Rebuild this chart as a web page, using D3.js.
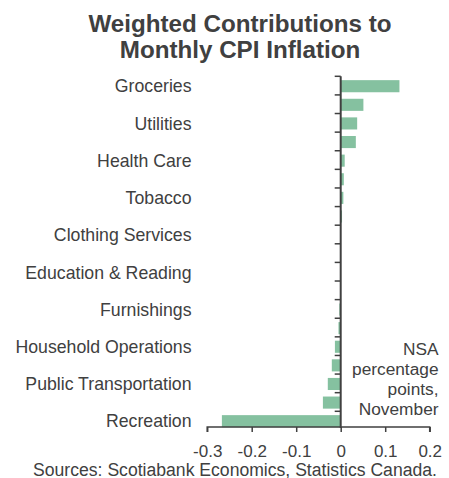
<!DOCTYPE html>
<html><head><meta charset="utf-8">
<script src="https://cdn.jsdelivr.net/npm/d3@7/dist/d3.min.js"></script>
<style>body{margin:0;background:#fff}svg{display:block}text{font-family:"Liberation Sans",Arial,sans-serif;fill:#404040}</style>
</head><body><svg id="c" width="449" height="478"></svg>
<script>
const categories = ["Groceries","c2","Utilities","c4","Health Care","c6","Tobacco","c8","Clothing Services","c10","Education & Reading","c12","Furnishings","c14","Household Operations","c16","Public Transportation","c18","Recreation"];
const labelShown = [true,false,true,false,true,false,true,false,true,false,true,false,true,false,true,false,true,false,true];
const values = [0.132,0.051,0.037,0.034,0.009,0.007,0.006,0.003,0,0,0,0,-0.003,-0.005,-0.013,-0.02,-0.029,-0.04,-0.267];
const xTicks = [-0.3,-0.2,-0.1,0,0.1,0.2];
const titleLines = ["Weighted Contributions to","Monthly CPI Inflation"];
const noteLines = ["NSA","percentage","points,","November"];
const source = "Sources: Scotiabank Economics, Statistics Canada.";

const svg = d3.select("#c");
const x = d3.scaleLinear().domain([-0.3,0.2]).range([207.2,429.7]);
const y = d3.scaleBand().domain(categories).range([76.3,429.9]).paddingInner(0.35).paddingOuter(0.175);
const step = y.step();
const axisY = 427;
const ink = "#404040";

svg.append("g").selectAll("text").data(titleLines).join("text")
  .attr("x",240).attr("y",(d,i)=>31.5+i*26.5).attr("text-anchor","middle")
  .style("font-size","24.2px").style("font-weight","bold").text(d=>d);

// bars
svg.append("g").selectAll("rect").data(values).join("rect")
  .attr("x",d=>x(Math.min(0,d))).attr("width",d=>Math.abs(x(d)-x(0)))
  .attr("y",(d,i)=>y(categories[i])+0.6).attr("height",y.bandwidth())
  .attr("fill","#85C1A0");

// y axis line and ticks at band boundaries
const x0 = x(0);
svg.append("line").attr("x1",x0).attr("x2",x0).attr("y1",76.3).attr("y2",axisY+1)
  .attr("stroke",ink).attr("stroke-width",2);
const bounds = d3.range(categories.length).map(i=>y.range()[0]+i*step);
svg.append("g").selectAll("line").data(bounds).join("line")
  .attr("x1",x0-6).attr("x2",x0).attr("y1",d=>d).attr("y2",d=>d)
  .attr("stroke",ink).attr("stroke-width",1.5);

// category labels
svg.append("g").selectAll("text").data(categories.filter((c,i)=>labelShown[i])).join("text")
  .attr("x",191.5).attr("y",d=>y(d)+y.bandwidth()/2+6.8).attr("text-anchor","end")
  .style("font-size","17.7px").text(d=>d);

// x axis
const xAxis = d3.axisBottom(x).tickValues(xTicks).tickSize(5).tickFormat(d3.format("")); 
const gx = svg.append("g").attr("transform",`translate(0,${axisY})`).call(xAxis);
gx.select(".domain").attr("stroke",ink).attr("stroke-width",1.5).attr("d",`M${x(-0.3)},5V0H${x(0.2)}V5`);
gx.selectAll(".tick line").attr("stroke",ink).attr("stroke-width",1.5);
gx.selectAll(".tick text").attr("y",17.5).style("font-size","17px").style("font-family","'Liberation Sans',Arial,sans-serif").attr("fill",ink)
  .text(d=>d===0?"0":String(d));

// note
svg.append("g").selectAll("text").data(noteLines).join("text")
  .attr("x",438.5).attr("y",(d,i)=>354.5+i*20).attr("text-anchor","end")
  .style("font-size","17.3px").text(d=>d);

svg.append("text").attr("x",235).attr("y",475.5).attr("text-anchor","middle")
  .style("font-size","17.6px").text(source);
</script></body></html>
